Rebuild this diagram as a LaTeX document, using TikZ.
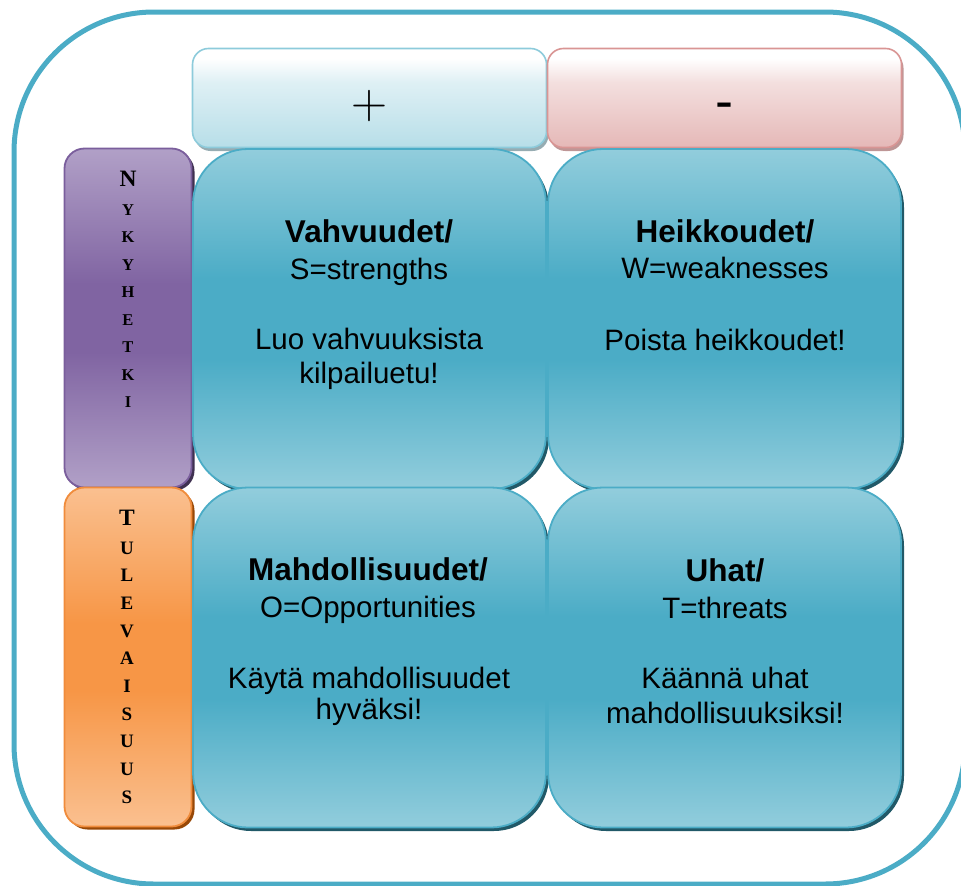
\documentclass[tikz,border=0pt]{standalone}
\usepackage{fontspec}
\usetikzlibrary{shadows}
\newfontfamily\cellfont{Liberation Sans}
\newfontfamily\sidefont{Liberation Serif}
\definecolor{framecol}{RGB}{75,172,198}
\definecolor{celllight}{RGB}{146,205,220}
\definecolor{celldark}{RGB}{75,172,198}
\definecolor{cellshadow}{RGB}{33,89,104}
\definecolor{plusline}{RGB}{141,203,219}
\definecolor{plusbottom}{RGB}{183,222,232}
\definecolor{plusshadow}{RGB}{150,172,178}
\definecolor{minusline}{RGB}{217,149,148}
\definecolor{minusbottom}{RGB}{229,184,183}
\definecolor{minusshadow}{RGB}{190,150,150}
\definecolor{purplelight}{RGB}{177,160,199}
\definecolor{purpledark}{RGB}{128,100,162}
\definecolor{purpleline}{RGB}{122,94,156}
\definecolor{purpleshadow}{RGB}{63,49,81}
\definecolor{orangelight}{RGB}{250,192,144}
\definecolor{orangedark}{RGB}{247,150,70}
\definecolor{orangeline}{RGB}{240,140,60}
\definecolor{orangeshadow}{RGB}{152,72,7}
% vertical gradients: light at the edges, dark through the middle band
\pgfdeclareverticalshading{cellshade}{100bp}{color(0bp)=(celllight); color(25bp)=(celllight);
  color(44bp)=(celldark); color(56bp)=(celldark); color(75bp)=(celllight); color(100bp)=(celllight)}
\pgfdeclareverticalshading{nowshade}{100bp}{color(0bp)=(purplelight); color(25bp)=(purplelight);
  color(45bp)=(purpledark); color(55bp)=(purpledark); color(75bp)=(purplelight); color(100bp)=(purplelight)}
\pgfdeclareverticalshading{futureshade}{100bp}{color(0bp)=(orangelight); color(25bp)=(orangelight);
  color(45bp)=(orangedark); color(55bp)=(orangedark); color(75bp)=(orangelight); color(100bp)=(orangelight)}
\pgfdeclareverticalshading{plusshade}{100bp}{color(0bp)=(plusbottom); color(25bp)=(plusbottom);
  color(58bp)=(plusbottom!45!white); color(70bp)=(white); color(100bp)=(white)}
\pgfdeclareverticalshading{minusshade}{100bp}{color(0bp)=(minusbottom); color(25bp)=(minusbottom);
  color(58bp)=(minusbottom!45!white); color(70bp)=(white); color(100bp)=(white)}
\begin{document}
\begin{tikzpicture}[x=1pt,y=-1pt,
  outerframe/.style={draw=framecol, line width=5pt, rounded corners=140pt},
  headbox/.style={rectangle, rounded corners=16pt, line width=1.6pt,
    minimum width=354pt, minimum height=99pt, inner sep=0pt},
  plusbox/.style={headbox, draw=plusline, shading=plusshade,
    drop shadow={shadow xshift=2pt, shadow yshift=-3.5pt, fill=plusshadow, opacity=1}},
  minusbox/.style={headbox, draw=minusline, shading=minusshade,
    drop shadow={shadow xshift=2pt, shadow yshift=-3.5pt, fill=minusshadow, opacity=1}},
  sidebox/.style={rectangle, rounded corners=20pt, line width=1.8pt,
    minimum width=127pt, minimum height=339pt, inner sep=0pt},
  nowbox/.style={sidebox, draw=purpleline, shading=nowshade,
    drop shadow={shadow xshift=3pt, shadow yshift=-3pt, fill=purpleshadow, opacity=1}},
  futurebox/.style={sidebox, draw=orangeline, shading=futureshade,
    drop shadow={shadow xshift=3pt, shadow yshift=-3pt, fill=orangeshadow, opacity=1}},
  cellbox/.style={rectangle, rounded corners=55pt, line width=1.8pt, draw=celldark,
    shading=cellshade, minimum width=353pt, minimum height=340pt, inner sep=0pt,
    drop shadow={shadow xshift=3pt, shadow yshift=-3.5pt, fill=cellshadow, opacity=1}},
  cellhead/.style={anchor=base, inner sep=0pt, font=\cellfont\bfseries\fontsize{31.5}{32}\selectfont},
  celltext/.style={anchor=base, inner sep=0pt, font=\cellfont\fontsize{29.5}{30}\selectfont},
  bigletter/.style={anchor=base, inner sep=0pt, font=\sidefont\bfseries\fontsize{23.5}{24}\selectfont},
  nowletter/.style={anchor=base, inner sep=0pt, font=\sidefont\bfseries\fontsize{16.5}{17}\selectfont},
  futureletter/.style={anchor=base, inner sep=0pt, font=\sidefont\bfseries\fontsize{19}{19}\selectfont}
]
\useasboundingbox (0,0) rectangle (961,886);

% outer frame
\draw[outerframe] (14,12) rectangle (965,884);

% column headers
\node[plusbox] (plus) at (369.5,98) {};
\node[minusbox] (minus) at (724.5,98) {};
\node[inner sep=0pt, font=\fontsize{50}{50}\selectfont] (plussign) at (369,106) {+};
\node[anchor=base, inner sep=0pt, font=\cellfont\fontsize{54}{54}\selectfont] (minussign) at (724,119.5) {-};

% row headers
\node[nowbox] (now) at (128,318) {};
\node[futurebox] (future) at (128,657) {};

\node[bigletter] (now-first) at (128,186.7) {N};
\foreach \ch [count=\i from 0] in {Y,K,Y,H,E,T,K,I}
  \node[nowletter] (now-\i) at (128,{215+27.5*\i}) {\ch};

\node[bigletter] (future-first) at (127,525.7) {T};
\foreach \ch [count=\i from 0] in {U,L,E,V,A,I,S,U,U,S}
  \node[futureletter] (future-\i) at (127,{554+27.7*\i}) {\ch};

% the four cells
\node[cellbox] (strengths) at (369.5,319) {};
\node[cellbox] (weaknesses) at (724.5,319) {};
\node[cellbox] (opportunities) at (369.5,657.5) {};
\node[cellbox] (threats) at (724.5,657.5) {};

% cell texts
\node[cellhead] (s-head) at (369,242) {Vahvuudet/};
\node[celltext] (s-sub) at (369,279) {S=strengths};
\node[celltext] (s-note1) at (369,349) {Luo vahvuuksista};
\node[celltext] (s-note2) at (369,383) {kilpailuetu!};

\node[cellhead] (w-head) at (725,242) {Heikkoudet/};
\node[celltext] (w-sub) at (725,278) {W=weaknesses};
\node[celltext] (w-note1) at (725,350) {Poista heikkoudet!};

\node[cellhead] (o-head) at (368,580) {Mahdollisuudet/};
\node[celltext] (o-sub) at (368,617) {O=Opportunities};
\node[celltext] (o-note1) at (369,688) {Käytä mahdollisuudet};
\node[celltext] (o-note2) at (369,719) {hyväksi!};

\node[cellhead] (t-head) at (725,581) {Uhat/};
\node[celltext] (t-sub) at (725,618) {T=threats};
\node[celltext] (t-note1) at (725,688) {Käännä uhat};
\node[celltext] (t-note2) at (725,723) {mahdollisuuksiksi!};
\end{tikzpicture}
\end{document}
